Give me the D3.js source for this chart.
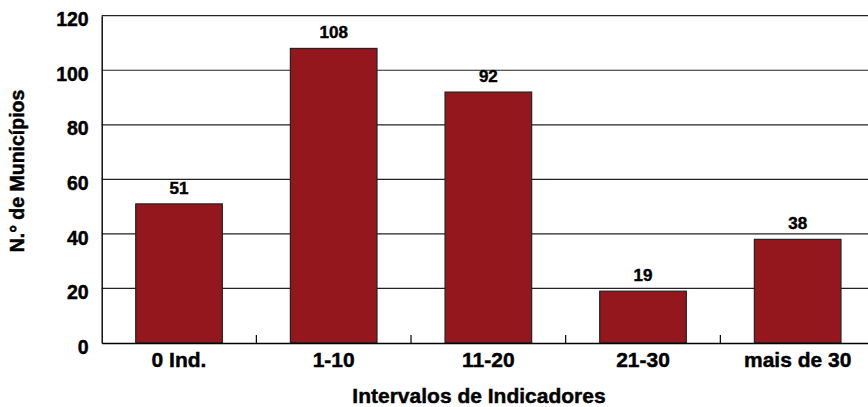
<!DOCTYPE html>
<html>
<head>
<meta charset="utf-8">
<script src="https://cdn.jsdelivr.net/npm/d3@7"></script>
<style>
  html, body { margin: 0; padding: 0; background: #fff; }
  svg { display: block; }
  text { stroke: #000; stroke-width: 0.45px; paint-order: stroke; }
</style>
</head>
<body>
<svg id="chart" width="868" height="407"></svg>
<script>
const categories = ["0 Ind.", "1-10", "11-20", "21-30", "mais de 30"];
const values = [51, 108, 92, 19, 38];
const yTicks = [0, 20, 40, 60, 80, 100, 120];
const yTitle = "N.° de Municípios";
const xTitle = "Intervalos de Indicadores";

(function () {
const svg = d3.select("#chart");
const pLeft = 101.7, pRight = 875, pTop = 15.7, pBottom = 343;

const x = d3.scaleBand().domain(categories).range([pLeft, pRight])
  .paddingInner(0.44).paddingOuter(0.22);
const y = d3.scaleLinear().domain([0, 120]).range([pBottom, pTop]);

const font = "'Liberation Sans', Arial, sans-serif";
const narrow = "'Liberation Sans Narrow', 'Arial Narrow', sans-serif";

// gridlines
svg.append("g").selectAll("line").data(yTicks.filter(d => d > 0)).join("line")
  .attr("x1", pLeft).attr("x2", pRight)
  .attr("y1", d => y(d)).attr("y2", d => y(d))
  .attr("stroke", "#222").attr("stroke-width", 1.2);

// bars
svg.append("g").selectAll("rect").data(values).join("rect")
  .attr("x", (d, i) => x(categories[i]))
  .attr("width", x.bandwidth())
  .attr("y", d => y(d))
  .attr("height", d => y(0) - y(d))
  .attr("fill", "#94171d")
  .attr("stroke", "#222").attr("stroke-width", 1.2);

// value labels
svg.append("g").selectAll("text").data(values).join("text")
  .attr("x", (d, i) => x(categories[i]) + x.bandwidth() / 2)
  .attr("y", d => y(d) - 10)
  .attr("text-anchor", "middle")
  .attr("font-family", font).attr("font-weight", "bold").attr("font-size", 17)
  .attr("fill", "#000")
  .text(d => d);

// y axis
const yAxis = d3.axisLeft(y).tickValues(yTicks).tickSize(0).tickPadding(13);
const gy = svg.append("g").attr("transform", `translate(${pLeft},0)`).call(yAxis);
gy.select(".domain").attr("stroke", "#000").attr("stroke-width", 1.4);
gy.selectAll("text").attr("font-family", font).attr("font-weight", "bold")
  .attr("font-size", 19.5).attr("fill", "#000").attr("dy", "0.52em");

// x axis
const xAxis = d3.axisBottom(x).tickSize(0).tickPadding(8);
const gx = svg.append("g").attr("transform", `translate(0,${pBottom})`).call(xAxis);
gx.select(".domain").attr("stroke", "#000").attr("stroke-width", 1.6);
gx.selectAll("text").attr("font-family", narrow).attr("font-weight", "bold")
  .attr("font-size", 21).attr("fill", "#000").attr("dy", "0.74em");

// category separator ticks
svg.append("g").selectAll("line").data(categories.slice(1)).join("line")
  .attr("x1", d => x(d) - x.step() * x.paddingInner() / 2)
  .attr("x2", d => x(d) - x.step() * x.paddingInner() / 2)
  .attr("y1", pBottom).attr("y2", pBottom - 8)
  .attr("stroke", "#000").attr("stroke-width", 1.2);

// titles
svg.append("text")
  .attr("transform", `translate(24,171) rotate(-90)`)
  .attr("text-anchor", "middle")
  .attr("font-family", font).attr("font-weight", "bold").attr("font-size", 19.5)
  .text(yTitle);

svg.append("text")
  .attr("x", 479).attr("y", 403)
  .attr("text-anchor", "middle")
  .attr("font-family", font).attr("font-weight", "bold").attr("font-size", 21)
  .text(xTitle);
})();
</script>
</body>
</html>
